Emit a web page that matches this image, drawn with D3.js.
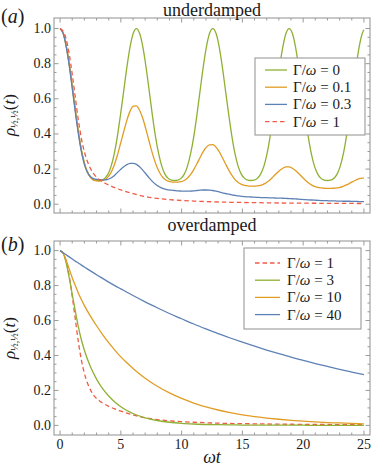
<!DOCTYPE html>
<html>
<head>
<meta charset="utf-8">
<script src="https://cdn.jsdelivr.net/npm/d3@7"></script>
<style>
  body { margin: 0; background: #fff; }
</style>
</head>
<body>
<div id="canvas"></div>
<script>
"use strict"

let tA = [0, 0.26, 0.52, 0.79, 1.05, 1.31, 1.57, 1.83, 2.09, 2.36, 2.62, 2.88,
    3.14, 3.40, 3.67, 3.93, 4.19, 4.45, 4.71, 4.97, 5.24, 5.50, 5.76, 6.02,
    6.28, 6.54, 6.81, 7.07, 7.33, 7.59, 7.85, 8.12, 8.38, 8.64, 8.90, 9.16,
    9.42, 9.69, 9.95, 10.21, 10.47, 10.73, 11.00, 11.26, 11.52, 11.78, 12.04, 12.30,
    12.57, 12.83, 13.09, 13.35, 13.61, 13.88, 14.14, 14.40, 14.66, 14.92, 15.18, 15.45,
    15.71, 15.97, 16.23, 16.49, 16.76, 17.02, 17.28, 17.54, 17.80, 18.06, 18.33, 18.59,
    18.85, 19.11, 19.37, 19.63, 19.90, 20.16, 20.42, 20.68, 20.94, 21.21, 21.47, 21.73,
    21.99, 22.25, 22.51, 22.78, 23.04, 23.30, 23.56, 23.82, 24.09, 24.35, 24.61, 24.87, 25];

// Gamma/omega = 0
let under0 = [1.000, 0.973, 0.896, 0.782, 0.647, 0.509, 0.385, 0.285, 0.214, 0.170, 0.147, 0.137,
    0.135, 0.137, 0.147, 0.170, 0.214, 0.285, 0.385, 0.509, 0.647, 0.782, 0.896, 0.973,
    1.000, 0.973, 0.896, 0.782, 0.647, 0.509, 0.385, 0.285, 0.214, 0.170, 0.147, 0.137,
    0.135, 0.137, 0.147, 0.170, 0.214, 0.285, 0.385, 0.509, 0.647, 0.782, 0.896, 0.973,
    1.000, 0.973, 0.896, 0.782, 0.647, 0.509, 0.385, 0.285, 0.214, 0.170, 0.147, 0.137,
    0.135, 0.137, 0.147, 0.170, 0.214, 0.285, 0.385, 0.509, 0.647, 0.782, 0.896, 0.973,
    1.000, 0.973, 0.896, 0.782, 0.647, 0.509, 0.385, 0.285, 0.214, 0.170, 0.147, 0.137,
    0.135, 0.137, 0.147, 0.170, 0.214, 0.285, 0.385, 0.509, 0.647, 0.782, 0.896, 0.973, 0.993];

// Gamma/omega = 0.1
let under01 = [1.000, 0.972, 0.894, 0.779, 0.643, 0.505, 0.381, 0.281, 0.211, 0.167, 0.144, 0.134,
    0.132, 0.133, 0.139, 0.154, 0.180, 0.222, 0.277, 0.344, 0.414, 0.479, 0.530, 0.558,
    0.560, 0.535, 0.488, 0.425, 0.357, 0.291, 0.234, 0.189, 0.159, 0.141, 0.131, 0.127,
    0.126, 0.126, 0.128, 0.135, 0.148, 0.168, 0.197, 0.230, 0.266, 0.299, 0.325, 0.338,
    0.339, 0.325, 0.299, 0.266, 0.230, 0.194, 0.164, 0.140, 0.124, 0.113, 0.107, 0.104,
    0.103, 0.103, 0.104, 0.107, 0.114, 0.125, 0.139, 0.157, 0.175, 0.192, 0.205, 0.212,
    0.212, 0.205, 0.192, 0.175, 0.156, 0.138, 0.122, 0.110, 0.101, 0.096, 0.093, 0.091,
    0.090, 0.090, 0.091, 0.093, 0.096, 0.102, 0.110, 0.119, 0.129, 0.138, 0.145, 0.148, 0.148];

// Gamma/omega = 0.3
let under03 = [1.000, 0.971, 0.891, 0.772, 0.634, 0.495, 0.372, 0.274, 0.207, 0.168, 0.150, 0.143,
    0.141, 0.138, 0.138, 0.141, 0.149, 0.162, 0.180, 0.197, 0.213, 0.225, 0.232, 0.233,
    0.227, 0.213, 0.193, 0.172, 0.150, 0.130, 0.113, 0.101, 0.092, 0.086, 0.082, 0.080,
    0.078, 0.076, 0.075, 0.074, 0.074, 0.075, 0.076, 0.078, 0.080, 0.081, 0.081, 0.080,
    0.078, 0.074, 0.070, 0.065, 0.061, 0.057, 0.053, 0.050, 0.047, 0.045, 0.043, 0.042,
    0.041, 0.040, 0.039, 0.038, 0.037, 0.037, 0.036, 0.036, 0.035, 0.035, 0.034, 0.033,
    0.032, 0.031, 0.030, 0.029, 0.027, 0.026, 0.025, 0.024, 0.023, 0.022, 0.021, 0.021,
    0.020, 0.019, 0.019, 0.018, 0.018, 0.017, 0.017, 0.017, 0.016, 0.016, 0.015, 0.015, 0.015];

/* Gamma/omega = 1 shows up in both panels (same curve) */
let tCrit = [0, 0.25, 0.5, 0.75, 1, 1.25, 1.5, 1.75, 2, 2.25, 2.5, 2.75, 3, 3.25, 3.5, 3.75, 4,
    4.5, 5, 5.5, 6, 6.5, 7, 8, 9, 10, 11, 12, 14, 16, 18, 20, 22, 25];
let crit1 = [1, 0.985, 0.94, 0.855, 0.74, 0.61, 0.48, 0.375, 0.298, 0.243, 0.203, 0.174, 0.154, 0.14,
    0.128, 0.118, 0.109, 0.094, 0.081, 0.07, 0.06, 0.051, 0.044, 0.033, 0.026, 0.021, 0.018,
    0.015, 0.011, 0.009, 0.007, 0.006, 0.005, 0.004];

/* overdamped panel */
let tB = [0, 0.25, 0.5, 0.75, 1, 1.25, 1.5, 1.75, 2, 2.5, 3, 3.5, 4, 4.5, 5, 5.5, 6, 7, 8, 9, 10,
    11, 12, 13, 14, 15, 16, 17, 18, 19, 20, 21, 22, 23, 24, 25];
let over3 = [1, 0.985, 0.93, 0.845, 0.75, 0.655, 0.565, 0.49, 0.43, 0.335, 0.265, 0.21, 0.168, 0.134,
    0.107, 0.085, 0.068, 0.043, 0.028, 0.018, 0.012, 0.008, 0.005, 0.004, 0.003, 0.002, 0.002,
    0.001, 0.001, 0.001, 0.001, 0, 0, 0, 0, 0];
let over10 = [1, 0.985, 0.945, 0.895, 0.845, 0.8, 0.758, 0.72, 0.685, 0.625, 0.57, 0.52, 0.473, 0.431,
    0.392, 0.358, 0.326, 0.27, 0.224, 0.186, 0.154, 0.128, 0.106, 0.088, 0.073, 0.06, 0.05,
    0.042, 0.035, 0.029, 0.024, 0.02, 0.016, 0.014, 0.011, 0.009];
let over40 = [1, 0.988, 0.976, 0.964, 0.952, 0.94, 0.929, 0.917, 0.906, 0.884, 0.862, 0.841, 0.82, 0.8,
    0.781, 0.762, 0.743, 0.707, 0.673, 0.64, 0.61, 0.58, 0.552, 0.525, 0.5, 0.476, 0.453,
    0.431, 0.41, 0.39, 0.372, 0.354, 0.337, 0.32, 0.305, 0.29];

/* tick labels + legend labels */
let xTicks = [0, 5, 10, 15, 20, 25];
let yTicks = [0, 0.2, 0.4, 0.6, 0.8, 1.0];
let legendA = ["0", "0.1", "0.3", "1"];
let legendB = ["1", "3", "10", "40"];

let green = "#8fb032", orange = "#e19c24", blue = "#5e81b5", red = "#ef5b45";
let frameColor = "#9a9a9a";
let textColor = "#1a1a1a";
let serif = "Liberation Serif";

let svgWidth = 374;
let svgHeight = 467;
let frameLeft = 54;
let frameRight = 370;

let svg = d3.select("#canvas")
    .append("svg")
    .attr("width", svgWidth)
    .attr("height", svgHeight);

// every text goes through here so it gets the serif font
function addText(parent, x, y, size) {
    return parent.append("text")
        .attr("x", x)
        .attr("y", y)
        .attr("font-family", serif)
        .attr("font-size", size)
        .attr("fill", textColor);
}

let xScale = d3.scaleLinear()
    .domain([-0.5, 25.5])
    .range([frameLeft, frameRight]);

let yScaleA = d3.scaleLinear().domain([-0.05, 1.06]).range([213, 18]);
let yScaleB = d3.scaleLinear().domain([-0.055, 1.055]).range([435, 241]);

/* draws the Mathematica style frame: ticks pointing inward on all four sides */
function drawFrame(top, bottom, yScale, clipId, withXLabels) {
    let g = svg.append("g");
    svg.append("clipPath").attr("id", clipId)
        .append("rect")
        .attr("x", frameLeft).attr("y", top)
        .attr("width", frameRight - frameLeft).attr("height", bottom - top);

    let xMinor = d3.range(0, 26).filter(v => v % 5 !== 0);
    let yMinor = d3.range(0, 21).filter(i => i % 4 !== 0).map(i => i * 0.05);

    function xTick(v, len) {
        g.append("line").attr("x1", xScale(v)).attr("x2", xScale(v))
            .attr("y1", bottom).attr("y2", bottom - len).attr("stroke", frameColor);
        g.append("line").attr("x1", xScale(v)).attr("x2", xScale(v))
            .attr("y1", top).attr("y2", top + len).attr("stroke", frameColor);
    }
    function yTick(v, len) {
        g.append("line").attr("y1", yScale(v)).attr("y2", yScale(v))
            .attr("x1", frameLeft).attr("x2", frameLeft + len).attr("stroke", frameColor);
        g.append("line").attr("y1", yScale(v)).attr("y2", yScale(v))
            .attr("x1", frameRight).attr("x2", frameRight - len).attr("stroke", frameColor);
    }
    xTicks.forEach(v => xTick(v, 4.5));
    xMinor.forEach(v => xTick(v, 2.5));
    yTicks.forEach(v => yTick(v, 4.5));
    yMinor.forEach(v => yTick(v, 2.5));

    g.append("rect")
        .attr("x", frameLeft).attr("y", top)
        .attr("width", frameRight - frameLeft).attr("height", bottom - top)
        .attr("fill", "none").attr("stroke", frameColor).attr("stroke-width", 1.1);

    yTicks.forEach(v => {
        addText(g, frameLeft - 3, yScale(v) + 4.5, 14)
            .attr("text-anchor", "end")
            .text(v.toFixed(1));
    });

    if (withXLabels) {
        xTicks.forEach(v => {
            addText(g, xScale(v), bottom + 14, 14)
                .attr("text-anchor", "middle")
                .text(v);
        });
    }
}

function drawCurves(series, yScale, clipId) {
    let g = svg.append("g").attr("clip-path", "url(#" + clipId + ")");
    series.forEach(s => {
        let line = d3.line()
            .x((d, i) => xScale(s.t[i]))
            .y(d => yScale(d))
            .curve(d3.curveMonotoneX);
        g.append("path")
            .attr("d", line(s.v))
            .attr("fill", "none")
            .attr("stroke", s.color)
            .attr("stroke-width", 1.3)
            .attr("stroke-dasharray", s.dash ? "4.5,3" : null);
    });
}

function drawLegend(x, y, w, h, rowY0, lineX0, lineX1, textX, items) {
    let g = svg.append("g");
    g.append("rect").attr("x", x).attr("y", y).attr("width", w).attr("height", h)
        .attr("fill", "#fff").attr("stroke", frameColor).attr("stroke-width", 1.1);
    items.forEach((it, i) => {
        let yy = rowY0 + i * 17.2;
        g.append("line").attr("x1", lineX0).attr("x2", lineX1).attr("y1", yy).attr("y2", yy)
            .attr("stroke", it.color).attr("stroke-width", 1.3)
            .attr("stroke-dasharray", it.dash ? "4.5,3" : null);
        let t = addText(g, textX, yy + 5, 15);
        t.append("tspan").text("Γ/");
        t.append("tspan").attr("font-style", "italic").text("ω");
        t.append("tspan").text(" = " + it.label);
    });
}

function drawYLabel(cy) {
    let t = addText(svg, 0, 0, 17)
        .attr("transform", "translate(15," + cy + ") rotate(-90)")
        .attr("text-anchor", "middle");
    t.append("tspan").attr("font-style", "italic").text("ρ");
    t.append("tspan").attr("font-size", 10).attr("dy", 3).text("½,½");
    t.append("tspan").attr("dy", -3).text("(");
    t.append("tspan").attr("font-style", "italic").text("t");
    t.append("tspan").text(")");
}

/* panel (a): underdamped */
drawFrame(18, 213, yScaleA, "clipA", false);
drawCurves([
    {t: tA, v: under0, color: green},
    {t: tA, v: under01, color: orange},
    {t: tA, v: under03, color: blue},
    {t: tCrit, v: crit1, color: red, dash: true}
], yScaleA, "clipA");
drawLegend(255, 58, 110, 77, 70, 265, 287, 293, [
    {label: legendA[0], color: green},
    {label: legendA[1], color: orange},
    {label: legendA[2], color: blue},
    {label: legendA[3], color: red, dash: true}
]);

/* panel (b): overdamped */
drawFrame(241, 435, yScaleB, "clipB", true);
drawCurves([
    {t: tCrit, v: crit1, color: red, dash: true},
    {t: tB, v: over3, color: green},
    {t: tB, v: over10, color: orange},
    {t: tB, v: over40, color: blue}
], yScaleB, "clipB");
drawLegend(244, 248, 117, 81, 263, 255, 280, 287, [
    {label: legendB[0], color: red, dash: true},
    {label: legendB[1], color: green},
    {label: legendB[2], color: orange},
    {label: legendB[3], color: blue}
]);

/* titles, panel tags, axis labels */
addText(svg, 212, 16, 18).attr("text-anchor", "middle").text("underdamped");
addText(svg, 212, 231, 18).attr("text-anchor", "middle").text("overdamped");

[["a", 23], ["b", 251]].forEach(p => {
    let t = addText(svg, 1, p[1], 20);
    t.append("tspan").text("(");
    t.append("tspan").attr("font-style", "italic").text(p[0]);
    t.append("tspan").text(")");
});

drawYLabel(115);
drawYLabel(338);

addText(svg, 212, 463, 18)
    .attr("text-anchor", "middle")
    .attr("font-style", "italic")
    .text("ωt");
</script>
</body>
</html>
